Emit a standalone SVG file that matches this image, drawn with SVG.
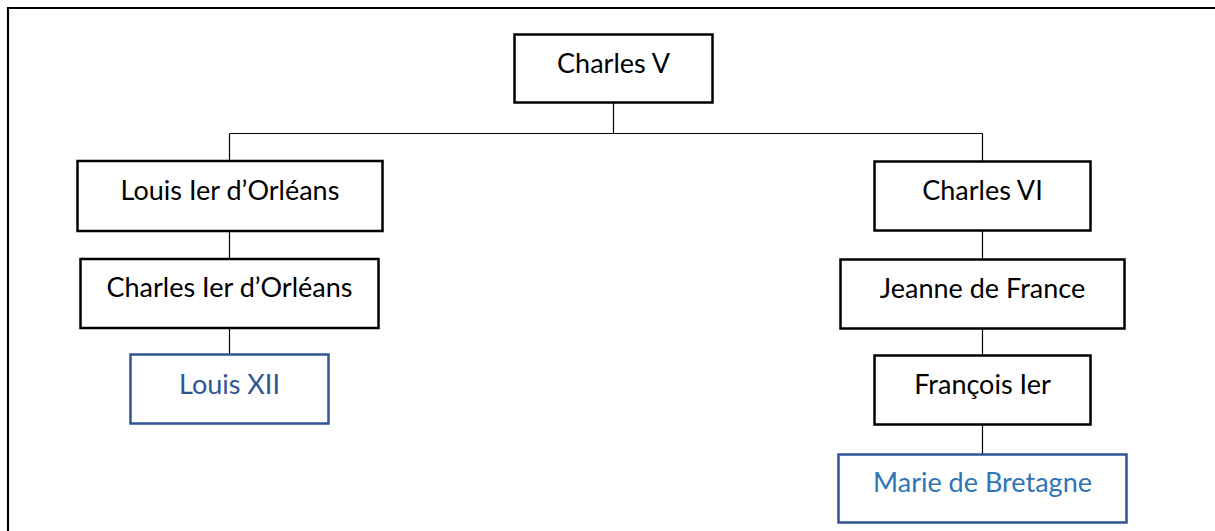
<svg xmlns="http://www.w3.org/2000/svg" width="1215" height="531" viewBox="0 0 1215 531">
<style>
.box{fill:#fff;stroke:#000;stroke-width:2.5}
.bbox{fill:#fff;stroke:#2F5597;stroke-width:2.5}
.t{font-family:Lato,"Open Sans","Liberation Sans",sans-serif;font-size:27px;fill:#000;text-anchor:middle}
.tb1{fill:#2F5597}
.tb2{fill:#2E75B6}
.c{stroke:#000;stroke-width:1.2;fill:none}
</style>
<rect width="1215" height="531" fill="#fff"/>
<path d="M8,531 V8 H1215" fill="none" stroke="#000" stroke-width="2.2"/>
<g id="connectors">
<path class="c" d="M613.5,103 V133.5 M229.5,133.5 H982.5 M229.5,133.5 V161 M982.5,133.5 V161"/>
<path class="c" d="M229.5,232 V259 M229.5,328 V355"/>
<path class="c" d="M982.5,231 V259 M982.5,329 V355 M982.5,425 V454"/>
</g>
<g id="charles-v"><rect class="box" x="514.5" y="34.5" width="198" height="68"/><text class="t" x="613.5" y="73">Charles V</text></g>
<g id="louis-ier"><rect class="box" x="77.5" y="161" width="305" height="70"/><text class="t" x="230" y="200">Louis Ier d’Orléans</text></g>
<g id="charles-ier"><rect class="box" x="80.5" y="259" width="298" height="69"/><text class="t" x="229.5" y="297">Charles Ier d’Orléans</text></g>
<g id="louis-xii"><rect class="bbox" x="130.5" y="354.5" width="198" height="69"/><text class="t tb1" x="229.5" y="394">Louis XII</text></g>
<g id="charles-vi"><rect class="box" x="874.5" y="161.5" width="216" height="69"/><text class="t" x="982.5" y="200">Charles VI</text></g>
<g id="jeanne"><rect class="box" x="840.5" y="259.5" width="284" height="69"/><text class="t" x="982.5" y="298">Jeanne de France</text></g>
<g id="francois"><rect class="box" x="874.5" y="355.5" width="216" height="69"/><text class="t" x="982.5" y="394">François Ier</text></g>
<g id="marie"><rect class="bbox" x="838.5" y="454.5" width="288" height="68"/><text class="t tb2" x="982.5" y="492">Marie de Bretagne</text></g>
</svg>
